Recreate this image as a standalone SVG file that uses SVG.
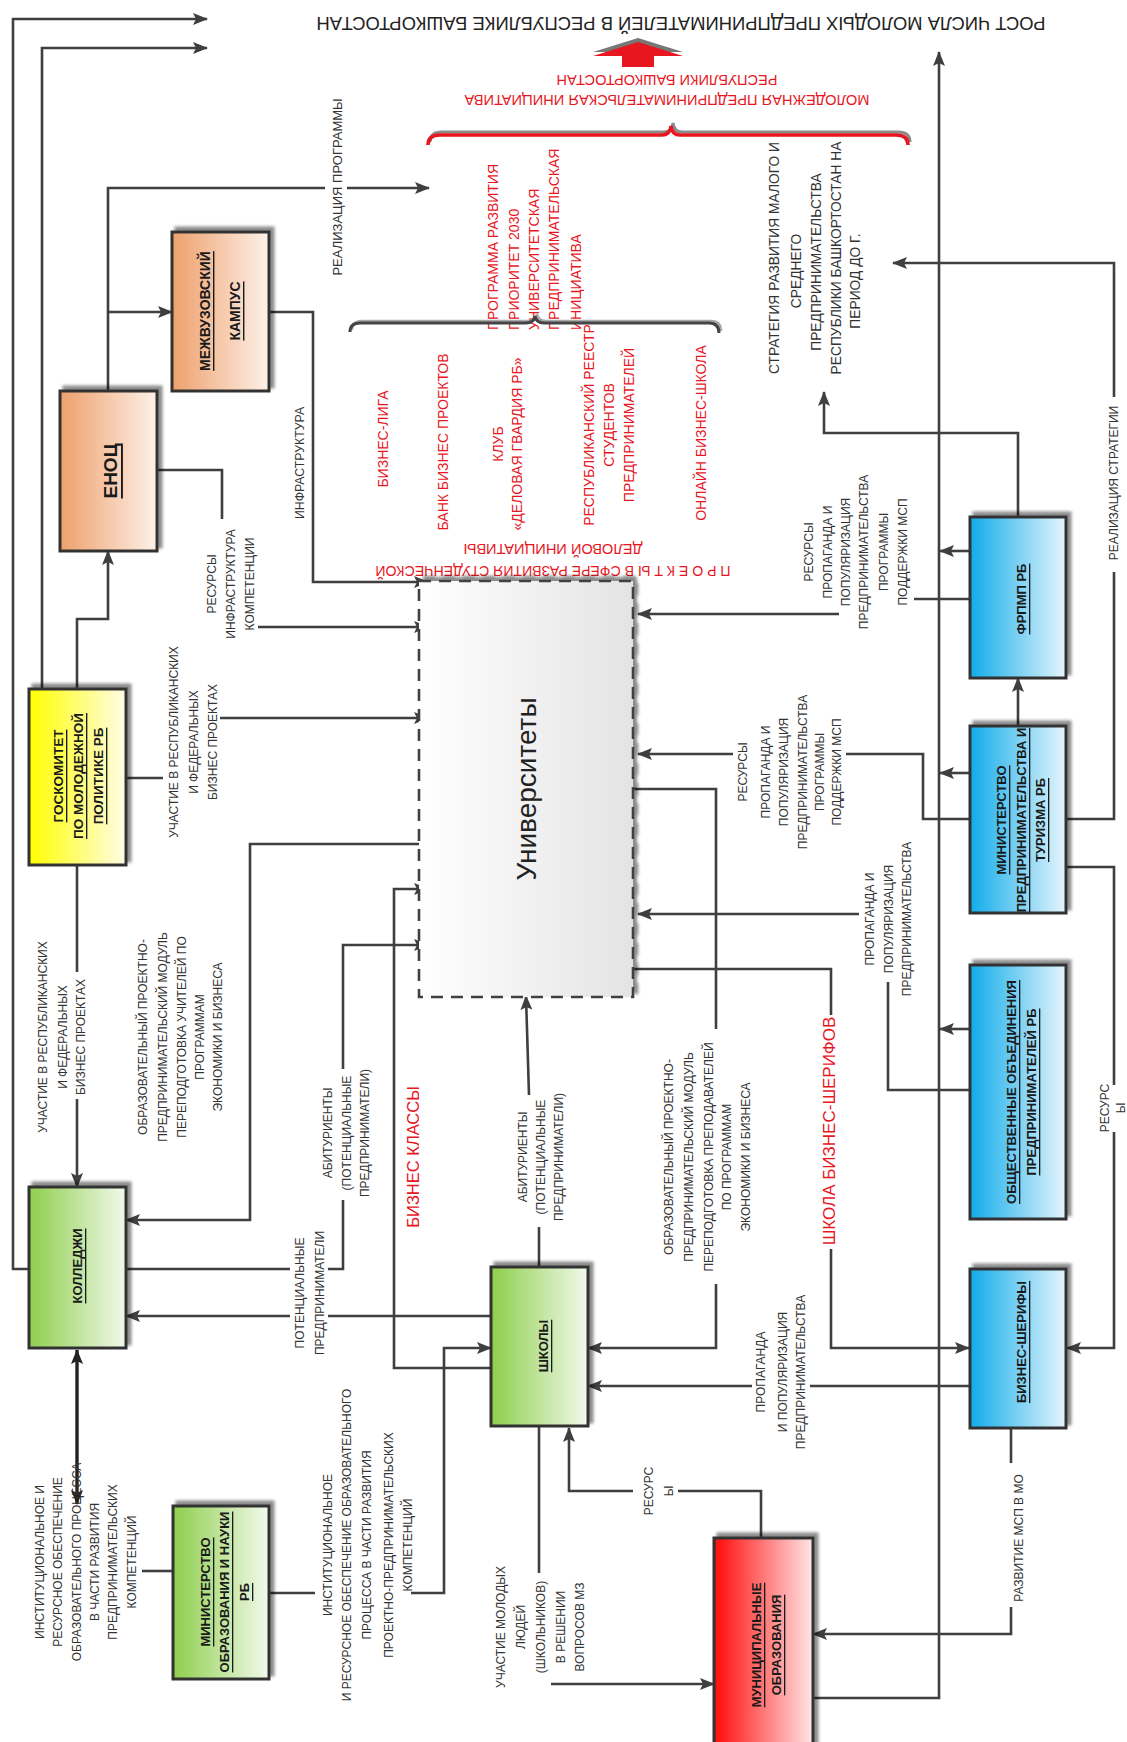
<svg xmlns="http://www.w3.org/2000/svg" width="1127" height="1742" viewBox="0 0 1127 1742">
<defs>
<style>
.l{font-family:"Liberation Sans",Arial,sans-serif;font-size:12px;fill:#333;text-anchor:middle;dominant-baseline:central}
.r{fill:#e8161e;font-size:14px}
.b{font-family:"Liberation Sans",Arial,sans-serif;font-weight:bold;font-size:13px;fill:#1a1a1a;text-anchor:middle;dominant-baseline:central;text-decoration:underline}
.c{fill:none;stroke:#3f3f3f;stroke-width:2.6}
.a{marker-end:url(#ah)}
.box{stroke:#333;stroke-width:3;filter:url(#sh)}
</style>
<marker id="ah" viewBox="0 0 15 12" refX="14" refY="6" markerWidth="15" markerHeight="12" orient="auto" markerUnits="userSpaceOnUse"><path d="M0,0 L15,6 L0,12 L3,6 z" fill="#3f3f3f"/></marker>
<marker id="ah2" viewBox="0 0 15 12" refX="14" refY="6" markerWidth="15" markerHeight="12" orient="auto-start-reverse" markerUnits="userSpaceOnUse"><path d="M0,0 L15,6 L0,12 L3,6 z" fill="#222"/></marker>
<filter id="sh" x="-10%" y="-10%" width="130%" height="130%"><feDropShadow dx="4" dy="-4" stdDeviation="1.5" flood-color="#000" flood-opacity="0.45"/></filter>
<linearGradient id="gPeach" x1="0" y1="0" x2="1" y2="0"><stop offset="0" stop-color="#eea06c"/><stop offset="1" stop-color="#fdf1e9"/></linearGradient>
<linearGradient id="gYel" x1="0" y1="0" x2="1" y2="0"><stop offset="0" stop-color="#ffff00"/><stop offset="1" stop-color="#fffce6"/></linearGradient>
<linearGradient id="gGreen" x1="0" y1="0" x2="1" y2="0"><stop offset="0" stop-color="#8ecf4c"/><stop offset="1" stop-color="#f2f9ec"/></linearGradient>
<linearGradient id="gBlue" x1="0" y1="0" x2="1" y2="0"><stop offset="0" stop-color="#10acea"/><stop offset="1" stop-color="#e6f5fc"/></linearGradient>
<linearGradient id="gRed" x1="0" y1="0" x2="1" y2="0"><stop offset="0" stop-color="#ff0a0a"/><stop offset="1" stop-color="#ffe6e6"/></linearGradient>
<linearGradient id="gGray" x1="0" y1="0" x2="1" y2="0"><stop offset="0" stop-color="#ffffff"/><stop offset="1" stop-color="#e4e4e4"/></linearGradient>
</defs>
<rect width="1127" height="1742" fill="#fff"/>

<!-- title and top decorations -->
<g id="title">
<text class="l" style="font-size:17.5px;fill:#222" transform="translate(681,23) rotate(180)" textLength="729" lengthAdjust="spacingAndGlyphs">РОСТ ЧИСЛА МОЛОДЫХ ПРЕДПРИНИМАТЕЛЕЙ В РЕСПУБЛИКЕ БАШКОРТОСТАН</text>
<path d="M638,38 L683,52 L654,52 L654,63 L622,63 L622,52 L593,52 Z" fill="#777"/>
<path d="M638,42 L683,56 L654,56 L654,67 L622,67 L622,56 L593,56 Z" fill="#e8161e"/>
<text class="l r" transform="translate(667,100) rotate(180)"><tspan x="0" y="0" textLength="405" lengthAdjust="spacingAndGlyphs">МОЛОДЕЖНАЯ ПРЕДПРИНИМАТЕЛЬСКАЯ ИНИЦИАТИВА</tspan><tspan x="0" y="20" textLength="221" lengthAdjust="spacingAndGlyphs">РЕСПУБЛИКИ БАШКОРТОСТАН</tspan></text>
</g>

<!-- red program texts -->
<g id="programs">
<text class="l r" style="text-anchor:start" transform="translate(0,330) rotate(-90)"><tspan x="0" y="493">ПРОГРАММА РАЗВИТИЯ</tspan><tspan x="0" y="514">ПРИОРИТЕТ 2030</tspan><tspan x="0" y="534">УНИВЕРСИТЕТСКАЯ</tspan><tspan x="0" y="554">ПРЕДПРИНИМАТЕЛЬСКАЯ</tspan><tspan x="0" y="576">ИНИЦИАТИВА</tspan></text>
<text class="l r" transform="translate(0,439) rotate(-90)"><tspan x="0" y="383">БИЗНЕС-ЛИГА</tspan></text>
<text class="l r" transform="translate(0,442) rotate(-90)"><tspan x="0" y="443">БАНК БИЗНЕС ПРОЕКТОВ</tspan></text>
<text class="l r" transform="translate(0,444) rotate(-90)"><tspan x="0" y="498">КЛУБ</tspan><tspan x="0" y="517">«ДЕЛОВАЯ ГВАРДИЯ РБ»</tspan></text>
<text class="l r" transform="translate(0,425) rotate(-90)"><tspan x="0" y="589">РЕСПУБЛИКАНСКИЙ РЕЕСТР</tspan><tspan x="0" y="609">СТУДЕНТОВ</tspan><tspan x="0" y="629">ПРЕДПРИНИМАТЕЛЕЙ</tspan></text>
<text class="l r" transform="translate(0,433) rotate(-90)"><tspan x="0" y="701">ОНЛАЙН БИЗНЕС-ШКОЛА</tspan></text>
<path d="M352,330 Q352,321 362,321 L528,321 Q536,321 537,314 Q538,321 546,321 L711,321 Q721,321 721,331" fill="none" stroke="#a8a8a8" stroke-width="2.5"/>
<path d="M350,332 Q350,323 360,323 L526,323 Q534,323 535,316 Q536,323 544,323 L709,323 Q719,323 719,333" fill="none" stroke="#444" stroke-width="3"/>
<text class="l r" transform="translate(553,571) rotate(180)"><tspan x="0" y="0" textLength="355" lengthAdjust="spacingAndGlyphs">П Р О Е К Т Ы В СФЕРЕ РАЗВИТИЯ СТУДЕНЧЕСКОЙ</tspan><tspan x="0" y="22" textLength="179" lengthAdjust="spacingAndGlyphs">ДЕЛОВОЙ ИНИЦИАТИВЫ</tspan></text>
</g>

<g id="strategy">
<text class="l" style="font-size:13.8px" transform="translate(0,262) rotate(-90)"><tspan x="4" y="774">СТРАТЕГИЯ РАЗВИТИЯ МАЛОГО И</tspan><tspan x="-9" y="796">СРЕДНЕГО</tspan><tspan x="0" y="816">ПРЕДПРИНИМАТЕЛЬСТВА</tspan><tspan x="4" y="836">РЕСПУБЛИКИ БАШКОРТОСТАН НА</tspan><tspan x="-19" y="855">ПЕРИОД ДО  Г.</tspan></text>
</g>

<g id="brace-red">
<path d="M430,142 Q430,132 442,132 L664,132 Q672,132 673,123 Q674,132 682,132 L898,132 Q910,132 910,142" fill="none" stroke="#8a8a8a" stroke-width="3"/>
<path d="M428,145 Q428,135 440,135 L662,135 Q670,135 671,126 Q672,135 680,135 L896,135 Q908,135 908,145" fill="none" stroke="#e8161e" stroke-width="3.5"/>
</g>

<!-- connectors -->
<g id="connectors">
<path class="c a" d="M29,1269 H13 V19 H207"/>
<path class="c a" d="M42,689 V48 H207"/>
<path class="c a" d="M77,689 V619 H108 V551"/>
<path class="c" d="M108,391 V188 H325"/>
<path class="c a" d="M347,188 H429"/>
<path class="c a" d="M108,312 H172"/>
<path class="c a" d="M269,312 H313 V582 H428"/>
<path class="c" d="M157,470 H222 V519"/>
<path class="c a" d="M258,627 H428"/>
<path class="c" d="M126,778 H163"/>
<path class="c a" d="M220,718 H428"/>
<path class="c" d="M77,865 V972"/>
<path class="c a" d="M77,1099 V1187"/>
<path class="c a" d="M419,844 H250 V1220 H126"/>
<path class="c" d="M126,1269 H290 M328,1269 H343 V1200"/>
<path class="c a" d="M343,1069 V945 H428"/>
<path class="c" d="M491,1316 H328"/>
<path class="c a" d="M290,1316 H126"/>
<path class="c a" d="M491,1368 H394 V889 H428"/>
<path class="c" d="M539,1267 V1227"/>
<path class="c a" d="M529,1095 L526,996"/>
<path class="c" d="M633,789 H716 V1029"/>
<path class="c a" d="M716,1284 V1348 H588"/>
<path class="c" d="M269,1593 H315"/>
<path class="c a" d="M411,1593 H444 V1348 H491"/>
<path class="c" d="M173,1571 H142"/>
<path d="M77,1504 V1350" fill="none" stroke="#222" stroke-width="3.4" marker-start="url(#ah2)" marker-end="url(#ah2)"/>
<path class="c" d="M761,1538 V1491 H678"/>
<path class="c a" d="M633,1491 H569 V1428"/>
<path class="c" d="M539,1426 V1573"/>
<path class="c a" d="M551,1684 H714"/>
<path class="c" d="M1011,1428 V1463"/>
<path class="c a" d="M1011,1607 V1634 H813"/>
<path class="c a" d="M813,1698 H939 V52"/>
<path class="c a" d="M969,551 H940"/>
<path class="c a" d="M969,773 H940"/>
<path class="c a" d="M969,1029 H940"/>
<path class="c a" d="M1018,517 V433 H824 V392"/>
<path class="c a" d="M1018,726 V678"/>
<path class="c" d="M1066,819 H1114 V572"/>
<path class="c a" d="M1114,397 V263 H893"/>
<path class="c" d="M1066,867 H1114 V1085"/>
<path class="c a" d="M1114,1132 V1348 H1067"/>
<path class="c" d="M969,599 H914"/>
<path class="c a" d="M839,614 H638"/>
<path class="c" d="M969,819 H923 V754 H846"/>
<path class="c a" d="M733,754 H638"/>
<path class="c" d="M969,1090 H888 V982"/>
<path class="c a" d="M859,914 H638"/>
<path class="c" d="M633,969 H831 V1015"/>
<path class="c a" d="M831,1249 V1348 H969"/>
<path class="c" d="M969,1386 H810"/>
<path class="c a" d="M752,1386 H588"/>
</g>

<!-- connector labels -->
<g id="labels">
<text class="l" style="font-size:13px" transform="translate(0,187) rotate(-90)"><tspan x="0" y="337">РЕАЛИЗАЦИЯ ПРОГРАММЫ</tspan></text>
<text class="l" style="font-size:12.3px" transform="translate(0,463) rotate(-90)"><tspan x="0" y="300">ИНФРАСТРУКТУРА</tspan></text>
<text class="l" transform="translate(0,584) rotate(-90)"><tspan x="0" y="212">РЕСУРСЫ</tspan><tspan x="0" y="231">ИНФРАСТРУКТУРА</tspan><tspan x="0" y="250">КОМПЕТЕНЦИИ</tspan></text>
<text class="l" transform="translate(0,742) rotate(-90)"><tspan x="0" y="174">УЧАСТИЕ В РЕСПУБЛИКАНСКИХ</tspan><tspan x="0" y="194">И ФЕДЕРАЛЬНЫХ</tspan><tspan x="0" y="213">БИЗНЕС ПРОЕКТАХ</tspan></text>
<text class="l" transform="translate(0,1037) rotate(-90)"><tspan x="0" y="43">УЧАСТИЕ В РЕСПУБЛИКАНСКИХ</tspan><tspan x="0" y="63">И ФЕДЕРАЛЬНЫХ</tspan><tspan x="0" y="81">БИЗНЕС ПРОЕКТАХ</tspan></text>
<text class="l" transform="translate(0,1037) rotate(-90)"><tspan x="0" y="143">ОБРАЗОВАТЕЛЬНЫЙ ПРОЕКТНО-</tspan><tspan x="0" y="163">ПРЕДПРИНИМАТЕЛЬСКИЙ МОДУЛЬ</tspan><tspan x="0" y="182">ПЕРЕПОДГОТОВКА УЧИТЕЛЕЙ ПО</tspan><tspan x="0" y="200">ПРОГРАММАМ</tspan><tspan x="0" y="218">ЭКОНОМИКИ И БИЗНЕСА</tspan></text>
<text class="l" transform="translate(0,1133) rotate(-90)"><tspan x="0" y="328">АБИТУРИЕНТЫ</tspan><tspan x="0" y="347">(ПОТЕНЦИАЛЬНЫЕ</tspan><tspan x="0" y="365">ПРЕДПРИНИМАТЕЛИ)</tspan></text>
<text class="l" transform="translate(0,1293) rotate(-90)"><tspan x="0" y="300">ПОТЕНЦИАЛЬНЫЕ</tspan><tspan x="0" y="320">ПРЕДПРИНИМАТЕЛИ</tspan></text>
<text class="l" transform="translate(0,1157) rotate(-90)"><tspan x="0" y="523">АБИТУРИЕНТЫ</tspan><tspan x="0" y="541">(ПОТЕНЦИАЛЬНЫЕ</tspan><tspan x="0" y="559">ПРЕДПРИНИМАТЕЛИ)</tspan></text>
<text class="l" transform="translate(0,1157) rotate(-90)"><tspan x="0" y="669">ОБРАЗОВАТЕЛЬНЫЙ ПРОЕКТНО-</tspan><tspan x="0" y="689">ПРЕДПРИНИМАТЕЛЬСКИЙ МОДУЛЬ</tspan><tspan x="0" y="709">ПЕРЕПОДГОТОВКА ПРЕПОДАВАТЕЛЕЙ</tspan><tspan x="0" y="727">ПО ПРОГРАММАМ</tspan><tspan x="0" y="746">ЭКОНОМИКИ И БИЗНЕСА</tspan></text>
<text class="l r" style="font-size:16.5px" transform="translate(0,1157) rotate(-90)"><tspan x="0" y="413">БИЗНЕС КЛАССЫ</tspan></text>
<text class="l r" style="font-size:17px" transform="translate(0,1131) rotate(-90)"><tspan x="0" y="829">ШКОЛА БИЗНЕС-ШЕРИФОВ</tspan></text>
<text class="l" transform="translate(0,919) rotate(-90)"><tspan x="0" y="870">ПРОПАГАНДА И</tspan><tspan x="0" y="889">ПОПУЛЯРИЗАЦИЯ</tspan><tspan x="0" y="907">ПРЕДПРИНИМАТЕЛЬСТВА</tspan></text>
<text class="l" transform="translate(0,772) rotate(-90)"><tspan x="0" y="743">РЕСУРСЫ</tspan><tspan x="0" y="766">ПРОПАГАНДА И</tspan><tspan x="0" y="784">ПОПУЛЯРИЗАЦИЯ</tspan><tspan x="0" y="803">ПРЕДПРИНИМАТЕЛЬСТВА</tspan><tspan x="0" y="820">ПРОГРАММЫ</tspan><tspan x="0" y="837">ПОДДЕРЖКИ МСП</tspan></text>
<text class="l" transform="translate(0,552) rotate(-90)"><tspan x="0" y="809">РЕСУРСЫ</tspan><tspan x="0" y="828">ПРОПАГАНДА И</tspan><tspan x="0" y="846">ПОПУЛЯРИЗАЦИЯ</tspan><tspan x="0" y="864">ПРЕДПРИНИМАТЕЛЬСТВА</tspan><tspan x="0" y="884">ПРОГРАММЫ</tspan><tspan x="0" y="903">ПОДДЕРЖКИ МСП</tspan></text>
<text class="l" transform="translate(0,483) rotate(-90)"><tspan x="0" y="1114">РЕАЛИЗАЦИЯ СТРАТЕГИИ</tspan></text>
<text class="l" transform="translate(0,1108) rotate(-90)"><tspan x="0" y="1105">РЕСУРС</tspan><tspan x="0" y="1121">Ы</tspan></text>
<text class="l" transform="translate(0,1491) rotate(-90)"><tspan x="0" y="649">РЕСУРС</tspan><tspan x="0" y="669">Ы</tspan></text>
<text class="l" transform="translate(0,1538) rotate(-90)"><tspan x="0" y="1019">РАЗВИТИЕ МСП В МО</tspan></text>
<text class="l" transform="translate(0,1372) rotate(-90)"><tspan x="0" y="761">ПРОПАГАНДА</tspan><tspan x="0" y="783">И ПОПУЛЯРИЗАЦИЯ</tspan><tspan x="0" y="801">ПРЕДПРИНИМАТЕЛЬСТВА</tspan></text>
<text class="l" transform="translate(0,1562) rotate(-90)"><tspan x="0" y="40">ИНСТИТУЦИОНАЛЬНОЕ И</tspan><tspan x="0" y="58">РЕСУРСНОЕ ОБЕСПЕЧЕНИЕ</tspan><tspan x="0" y="77">ОБРАЗОВАТЕЛЬНОГО ПРОЦЕССА</tspan><tspan x="0" y="95">В ЧАСТИ РАЗВИТИЯ</tspan><tspan x="0" y="113">ПРЕДПРИНИМАТЕЛЬСКИХ</tspan><tspan x="0" y="132">КОМПЕТЕНЦИЙ</tspan></text>
<text class="l" transform="translate(0,1545) rotate(-90)"><tspan x="0" y="328">ИНСТИТУЦИОНАЛЬНОЕ</tspan><tspan x="0" y="347">И РЕСУРСНОЕ ОБЕСПЕЧЕНИЕ ОБРАЗОВАТЕЛЬНОГО</tspan><tspan x="0" y="367">ПРОЦЕССА В ЧАСТИ РАЗВИТИЯ</tspan><tspan x="0" y="389">ПРОЕКТНО-ПРЕДПРИНИМАТЕЛЬСКИХ</tspan><tspan x="0" y="408">КОМПЕТЕНЦИЙ</tspan></text>
<text class="l" transform="translate(0,1627) rotate(-90)"><tspan x="0" y="501">УЧАСТИЕ МОЛОДЫХ</tspan><tspan x="0" y="521">ЛЮДЕЙ</tspan><tspan x="0" y="541">(ШКОЛЬНИКОВ)</tspan><tspan x="0" y="561">В РЕШЕНИИ</tspan><tspan x="0" y="580">ВОПРОСОВ МЗ</tspan></text>
</g>

<!-- nodes -->
<g id="mezhvuz"><rect class="box" x="172" y="232" width="97" height="159" fill="url(#gPeach)"/><text class="b" style="font-size:14px" transform="translate(0,311) rotate(-90)"><tspan x="0" y="205">МЕЖВУЗОВСКИЙ</tspan><tspan x="0" y="235">КАМПУС</tspan></text></g>
<g id="enoc"><rect class="box" x="60" y="391" width="97" height="160" fill="url(#gPeach)"/><text class="b" style="font-size:19px" transform="translate(0,471) rotate(-90)"><tspan x="0" y="110">ЕНОЦ</tspan></text></g>
<g id="goskom"><rect class="box" x="29" y="689" width="97" height="176" fill="url(#gYel)"/><text class="b" style="font-size:13.5px" transform="translate(0,776) rotate(-90)"><tspan x="0" y="58">ГОСКОМИТЕТ</tspan><tspan x="0" y="78">ПО МОЛОДЕЖНОЙ</tspan><tspan x="0" y="98">ПОЛИТИКЕ РБ</tspan></text></g>
<g id="colleges"><rect class="box" x="29" y="1187" width="97" height="161" fill="url(#gGreen)"/><text class="b" transform="translate(0,1266) rotate(-90)"><tspan x="0" y="77">КОЛЛЕДЖИ</tspan></text></g>
<g id="schools"><rect class="box" x="491" y="1267" width="97" height="159" fill="url(#gGreen)"/><text class="b" transform="translate(0,1346) rotate(-90)"><tspan x="0" y="543">ШКОЛЫ</tspan></text></g>
<g id="minobr"><rect class="box" x="173" y="1506" width="96" height="173" fill="url(#gGreen)"/><text class="b" transform="translate(0,1592) rotate(-90)"><tspan x="0" y="205">МИНИСТЕРСТВО</tspan><tspan x="0" y="224">ОБРАЗОВАНИЯ И НАУКИ</tspan><tspan x="0" y="244">РБ</tspan></text></g>
<g id="municipal"><rect class="box" x="714" y="1538" width="99" height="220" fill="url(#gRed)"/><text class="b" transform="translate(0,1645) rotate(-90)"><tspan x="0" y="756">МУНИЦИПАЛЬНЫЕ</tspan><tspan x="0" y="776">ОБРАЗОВАНИЯ</tspan></text></g>
<g id="universities"><rect x="419" y="581" width="214" height="416" fill="url(#gGray)" stroke="#404040" stroke-width="2.6" stroke-dasharray="12,8" filter="url(#sh)"/><text class="l" style="font-size:28px;fill:#222" transform="translate(0,789) rotate(-90)"><tspan x="0" y="526">Университеты</tspan></text></g>
<g id="frpmp"><rect class="box" x="970" y="517" width="96" height="161" fill="url(#gBlue)"/><text class="b" transform="translate(0,599) rotate(-90)"><tspan x="0" y="1021">ФРПМП РБ</tspan></text></g>
<g id="minpred"><rect class="box" x="970" y="726" width="96" height="187" fill="url(#gBlue)"/><text class="b" transform="translate(0,820) rotate(-90)"><tspan x="0" y="1001">МИНИСТЕРСТВО</tspan><tspan x="0" y="1021">ПРЕДПРИНИМАТЕЛЬСТВА И</tspan><tspan x="0" y="1040">ТУРИЗМА РБ</tspan></text></g>
<g id="obsh"><rect class="box" x="970" y="965" width="96" height="254" fill="url(#gBlue)"/><text class="b" transform="translate(0,1092) rotate(-90)"><tspan x="0" y="1011">ОБЩЕСТВЕННЫЕ ОБЪЕДИНЕНИЯ</tspan><tspan x="0" y="1031">ПРЕДПРИНИМАТЕЛЕЙ РБ</tspan></text></g>
<g id="sheriffs"><rect class="box" x="970" y="1269" width="96" height="159" fill="url(#gBlue)"/><text class="b" transform="translate(0,1342) rotate(-90)"><tspan x="0" y="1021">БИЗНЕС-ШЕРИФЫ</tspan></text></g>
</svg>
